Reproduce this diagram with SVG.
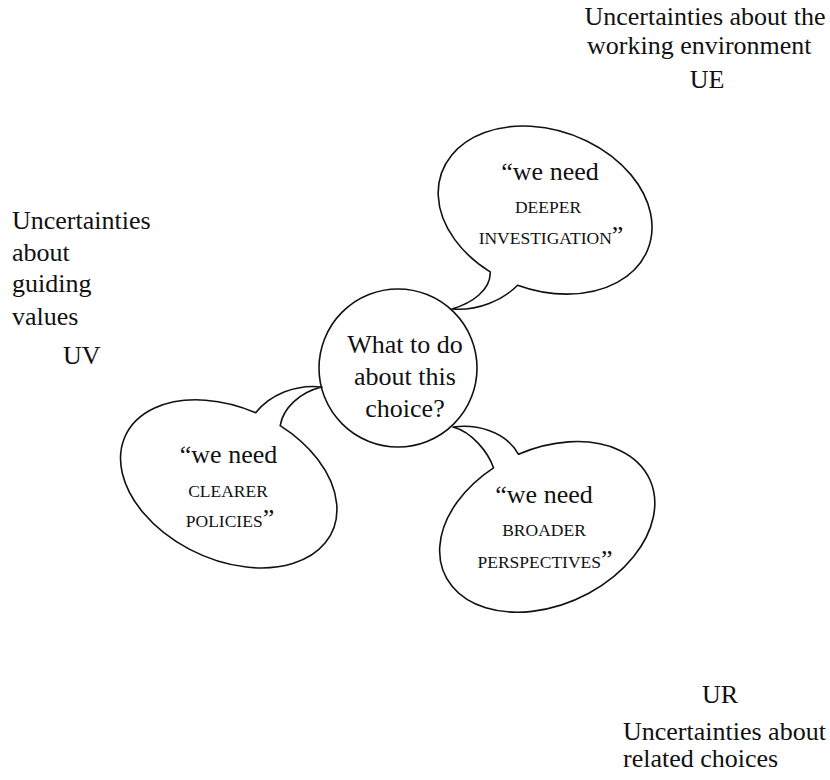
<svg xmlns="http://www.w3.org/2000/svg" width="830" height="780" viewBox="0 0 830 780">
<style>
text{font-family:"Liberation Serif","Times New Roman",serif;fill:#111;font-size:26px}
.m{text-anchor:middle}
.sc{font-size:17.5px}
.q{font-size:26px}
.shape{fill:#fff;stroke:#111;stroke-width:1.6;stroke-linejoin:round}
</style>
<rect width="830" height="780" fill="#fff"/>
<g id="labels">
<g id="UE">
<text class="m" x="705" y="25">Uncertainties about the</text>
<text x="587" y="54">working environment</text>
<text class="m" x="707" y="88">UE</text>
</g>
<g id="UV">
<text x="12" y="229">Uncertainties</text>
<text x="12" y="261">about</text>
<text x="12" y="292">guiding</text>
<text x="12" y="325">values</text>
<text x="63" y="364">UV</text>
</g>
<g id="UR">
<text class="m" x="720" y="703">UR</text>
<text x="623" y="740">Uncertainties about</text>
<text x="623" y="767">related choices</text>
</g>
</g>
<g id="connectors">
<g id="bubble-deeper">
<path class="shape" d="M517.6,285.2 A110,80 20 1 0 490.2,271.9 C491,290 472,303 452,309 C478,311 503,300 517.6,285.2 Z"/>
<text class="m" x="550" y="180">“we need</text>
<text class="m sc" x="548" y="213">DEEPER</text>
<text class="m sc" x="551" y="244">INVESTIGATION<tspan class="q">”</tspan></text>
</g>
<g id="bubble-clearer">
<path class="shape" d="M280.2,425.6 A114,76 25 1 1 255.7,412.7 C270,395 295,384 322,387 C300,392 283,408 280.2,425.6 Z"/>
<text class="m" x="228.5" y="463">“we need</text>
<text class="m sc" x="228" y="497">CLEARER</text>
<text class="m sc" x="230" y="527">POLICIES<tspan class="q">”</tspan></text>
</g>
<g id="bubble-broader">
<path class="shape" d="M518.5,454.3 A113,78 -25 1 1 493.5,467.8 C488,452 472,432 453,427 C475,424 505,430 518.5,454.3 Z"/>
<text class="m" x="544" y="503">“we need</text>
<text class="m sc" x="544" y="536">BROADER</text>
<text class="m sc" x="545" y="568">PERSPECTIVES<tspan class="q">”</tspan></text>
</g>
</g>
<g id="center">
<circle class="shape" cx="398" cy="368" r="79" style="fill:none"/>
<text class="m" x="405" y="353">What to do</text>
<text class="m" x="405" y="385">about this</text>
<text class="m" x="405" y="417">choice?</text>
</g>
</svg>
